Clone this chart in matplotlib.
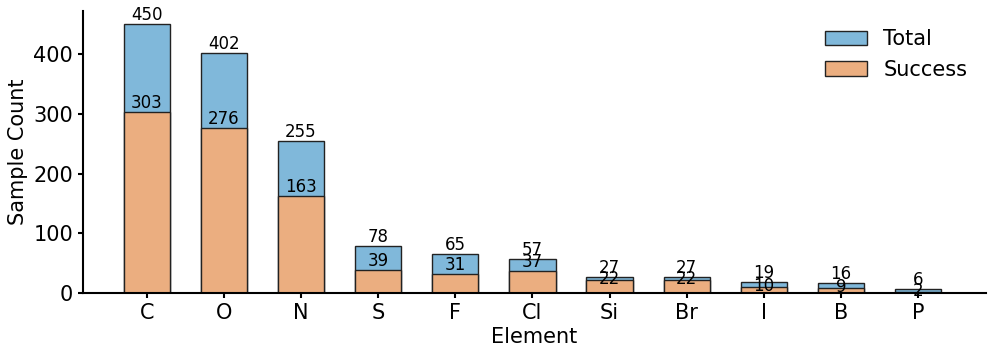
import matplotlib
matplotlib.use("Agg")
import matplotlib.pyplot as plt
import numpy as np

elements = ["C", "O", "N", "S", "F", "Cl", "Si", "Br", "I", "B", "P"]
total = [450, 402, 255, 78, 65, 57, 27, 27, 19, 16, 6]
success = [303, 276, 163, 39, 31, 37, 22, 22, 10, 9, 2]

fig, ax = plt.subplots(figsize=(9.96, 3.56), dpi=100)
x = np.arange(len(elements))
w = 0.6

ax.bar(x, total, w, color="#80b8da", edgecolor="#222222", linewidth=1, label="Total")
ax.bar(x, success, w, color="#ebae80", edgecolor="#222222", linewidth=1, label="Success")

for xi, t, s in zip(x, total, success):
    ax.text(xi, t, str(t), ha="center", va="bottom", fontsize=12)
    # small gaps: success label pushed down, overlapping as in the original
    ys = s - 14 if t - s < 15 else s
    ax.text(xi, ys, str(s), ha="center", va="bottom", fontsize=12)

ax.set_xticks(x)
ax.set_xticklabels(elements, fontsize=15)
ax.tick_params(axis="y", labelsize=15)
ax.tick_params(width=1.5)
ax.set_xlabel("Element", fontsize=15, labelpad=3)
ax.set_ylabel("Sample Count", fontsize=15)
ax.set_xlim(-0.83, 10.88)
ax.set_ylim(0, 473)
for sp in ["top", "right"]:
    ax.spines[sp].set_visible(False)
for sp in ["left", "bottom"]:
    ax.spines[sp].set_linewidth(1.5)
ax.legend(fontsize=15, frameon=False, loc="upper right")

fig.subplots_adjust(left=0.083, right=0.99, top=0.97, bottom=0.177)
fig.savefig("out.png")
